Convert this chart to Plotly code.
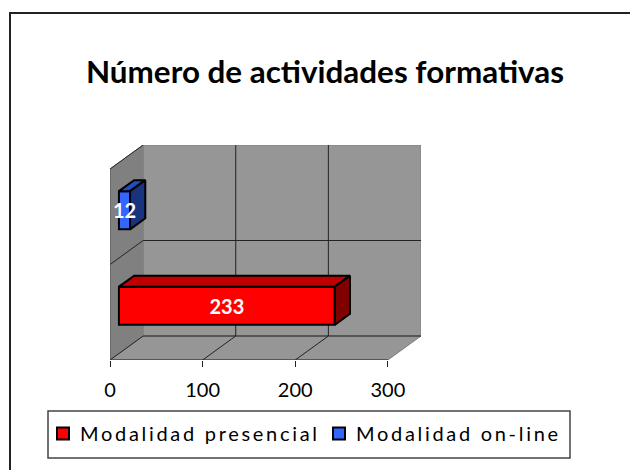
import plotly.graph_objects as go

title = "Número de actividades formativas"
series_names = ["Modalidad presencial", "Modalidad on-line"]
series_values = [233, 12]
front_colors = ["#FF0000", "#3366FF"]
top_colors = ["#C00000", "#264CBF"]
side_colors = ["#800000", "#1A337F"]
tick_values = [0, 100, 200, 300]

# Oblique projection: depth d in [0, 1] shifts a point along both axes
DX, DY = 35.75, 0.2513
XMAX, YMAX = 300, 2
D0, D1 = 0.27, 0.73      # bar extent in depth
HALF = 0.2               # half bar thickness in category units
LABEL_DY = -0.03


def P(v, c, d):
    return v + DX * d, c + DY * d


def poly(pts):
    return "M" + " L".join(f"{x},{y}" for x, y in pts) + " Z"


def seg(a, b, line):
    return dict(type="line", x0=a[0], y0=a[1], x1=b[0], y1=b[1], line=line, layer="below")


WALL = "#969696"
edge = dict(color="#808080", width=1)
black = dict(color="#222222", width=1)
shapes = [
    dict(type="path", path=poly([P(0, 0, 1), P(XMAX, 0, 1), P(XMAX, YMAX, 1), P(0, YMAX, 1)]),
         fillcolor=WALL, line=edge, layer="below"),
    dict(type="path", path=poly([P(0, 0, 0), P(0, 0, 1), P(0, YMAX, 1), P(0, YMAX, 0)]),
         fillcolor="#808080", line=edge, layer="below"),
    dict(type="path", path=poly([P(0, 0, 0), P(XMAX, 0, 0), P(XMAX, 0, 1), P(0, 0, 1)]),
         fillcolor=WALL, line=edge, layer="below"),
]
for v in tick_values:
    if 0 < v < XMAX:
        shapes.append(seg(P(v, 0, 1), P(v, YMAX, 1), black))
    if v < XMAX:
        shapes.append(seg(P(v, 0, 0), P(v, 0, 1), black))
shapes += [
    seg(P(0, 1, 0), P(0, 1, 1), black),
    seg(P(0, 1, 1), P(XMAX, 1, 1), black),
    seg(P(0, 0, 1), P(XMAX, 0, 1), black),
    seg(P(0, 0, 0), P(XMAX, 0, 0), black),
    seg(P(0, 0, 0), P(0, YMAX, 0), dict(color="#555555", width=1)),
    seg(P(0, YMAX, 0), P(0, YMAX, 1), black),
]

fig = go.Figure()
for i, (name, val) in enumerate(zip(series_names, series_values)):
    base_x, front_c = P(0, 0, D0)
    center = i + 0.5
    fig.add_trace(go.Bar(
        orientation="h", name=name, x=[val], base=[base_x], y=[center + front_c], width=[2 * HALF],
        marker=dict(color=front_colors[i], line=dict(color="#000000", width=2)),
    ))
    lo, hi = center - HALF, center + HALF
    top = [P(0, hi, D0), P(val, hi, D0), P(val, hi, D1), P(0, hi, D1), P(0, hi, D0)]
    side = [P(val, lo, D0), P(val, hi, D0), P(val, hi, D1), P(val, lo, D1), P(val, lo, D0)]
    for pts, col in ((top, top_colors[i]), (side, side_colors[i])):
        fig.add_trace(go.Scatter(
            x=[p[0] for p in pts], y=[p[1] for p in pts], mode="lines", fill="toself",
            fillcolor=col, line=dict(color="#000000", width=2), showlegend=False, hoverinfo="skip",
        ))
    fig.add_trace(go.Scatter(
        x=[base_x + val / 2], y=[center + front_c + LABEL_DY], mode="text", text=[str(val)],
        textposition="middle center",
        textfont=dict(family="Lato", size=20, color="#FFFFFF", weight="bold"),
        showlegend=False, hoverinfo="skip",
    ))

L, R, T, B = 110, 421, 145, 360
W, H = 630, 470
frame = [
    dict(type="rect", xref="paper", yref="paper", x0=10 / W, x1=640 / W, y0=-10 / H, y1=1 - 13 / H,
         line=dict(color="#222222", width=2), fillcolor="rgba(0,0,0,0)", layer="below"),
    dict(type="rect", xref="paper", yref="paper", x0=48 / W, x1=570 / W, y0=1 - 458 / H, y1=1 - 411 / H,
         line=dict(color="#444444", width=1.5), fillcolor="rgba(0,0,0,0)", layer="below"),
]
fig.update_layout(
    width=W, height=H, autosize=False,
    margin=dict(l=0, r=0, t=0, b=0, autoexpand=False),
    paper_bgcolor="#FFFFFF", plot_bgcolor="rgba(0,0,0,0)",
    showlegend=True, shapes=shapes + frame,
    title=dict(text=f"<b>{title}</b>", x=325 / W, xanchor="center", y=1 - 72 / H, yanchor="middle",
               font=dict(family="Lato", size=31.4, color="#000000")),
    legend=dict(
        orientation="h", x=43 / W, xanchor="left", y=1 - 414 / H, yanchor="top",
        borderwidth=0, bgcolor="rgba(0,0,0,0)",
        font=dict(family="Lato", size=20, color="#000000"),
        traceorder="normal", itemsizing="constant",
        entrywidth=231, entrywidthmode="pixels", itemwidth=30,
    ),
    xaxis=dict(domain=[L / W, R / W], range=[0, XMAX + DX], tickvals=tick_values, ticks="outside",
               ticklen=6, tickcolor="#222222", showgrid=False, zeroline=False, showline=False,
               ticklabelstandoff=6,
               tickfont=dict(family="Lato", size=20, color="#000000"), fixedrange=True),
    yaxis=dict(domain=[1 - B / H, 1 - T / H], range=[0, YMAX + DY], showticklabels=False, ticks="",
               showgrid=False, zeroline=False, showline=False, fixedrange=True),
)
fig.write_html(
    "out.html",
    config={"displayModeBar": False},
    post_script=(
        "document.body.style.margin='0';"
        "document.querySelectorAll('.legendtext').forEach(function(e){"
        "e.style.letterSpacing='2.7px';"
        "e.setAttribute('x', parseFloat(e.getAttribute('x')) - 3);"
        "});"
    ),
)
